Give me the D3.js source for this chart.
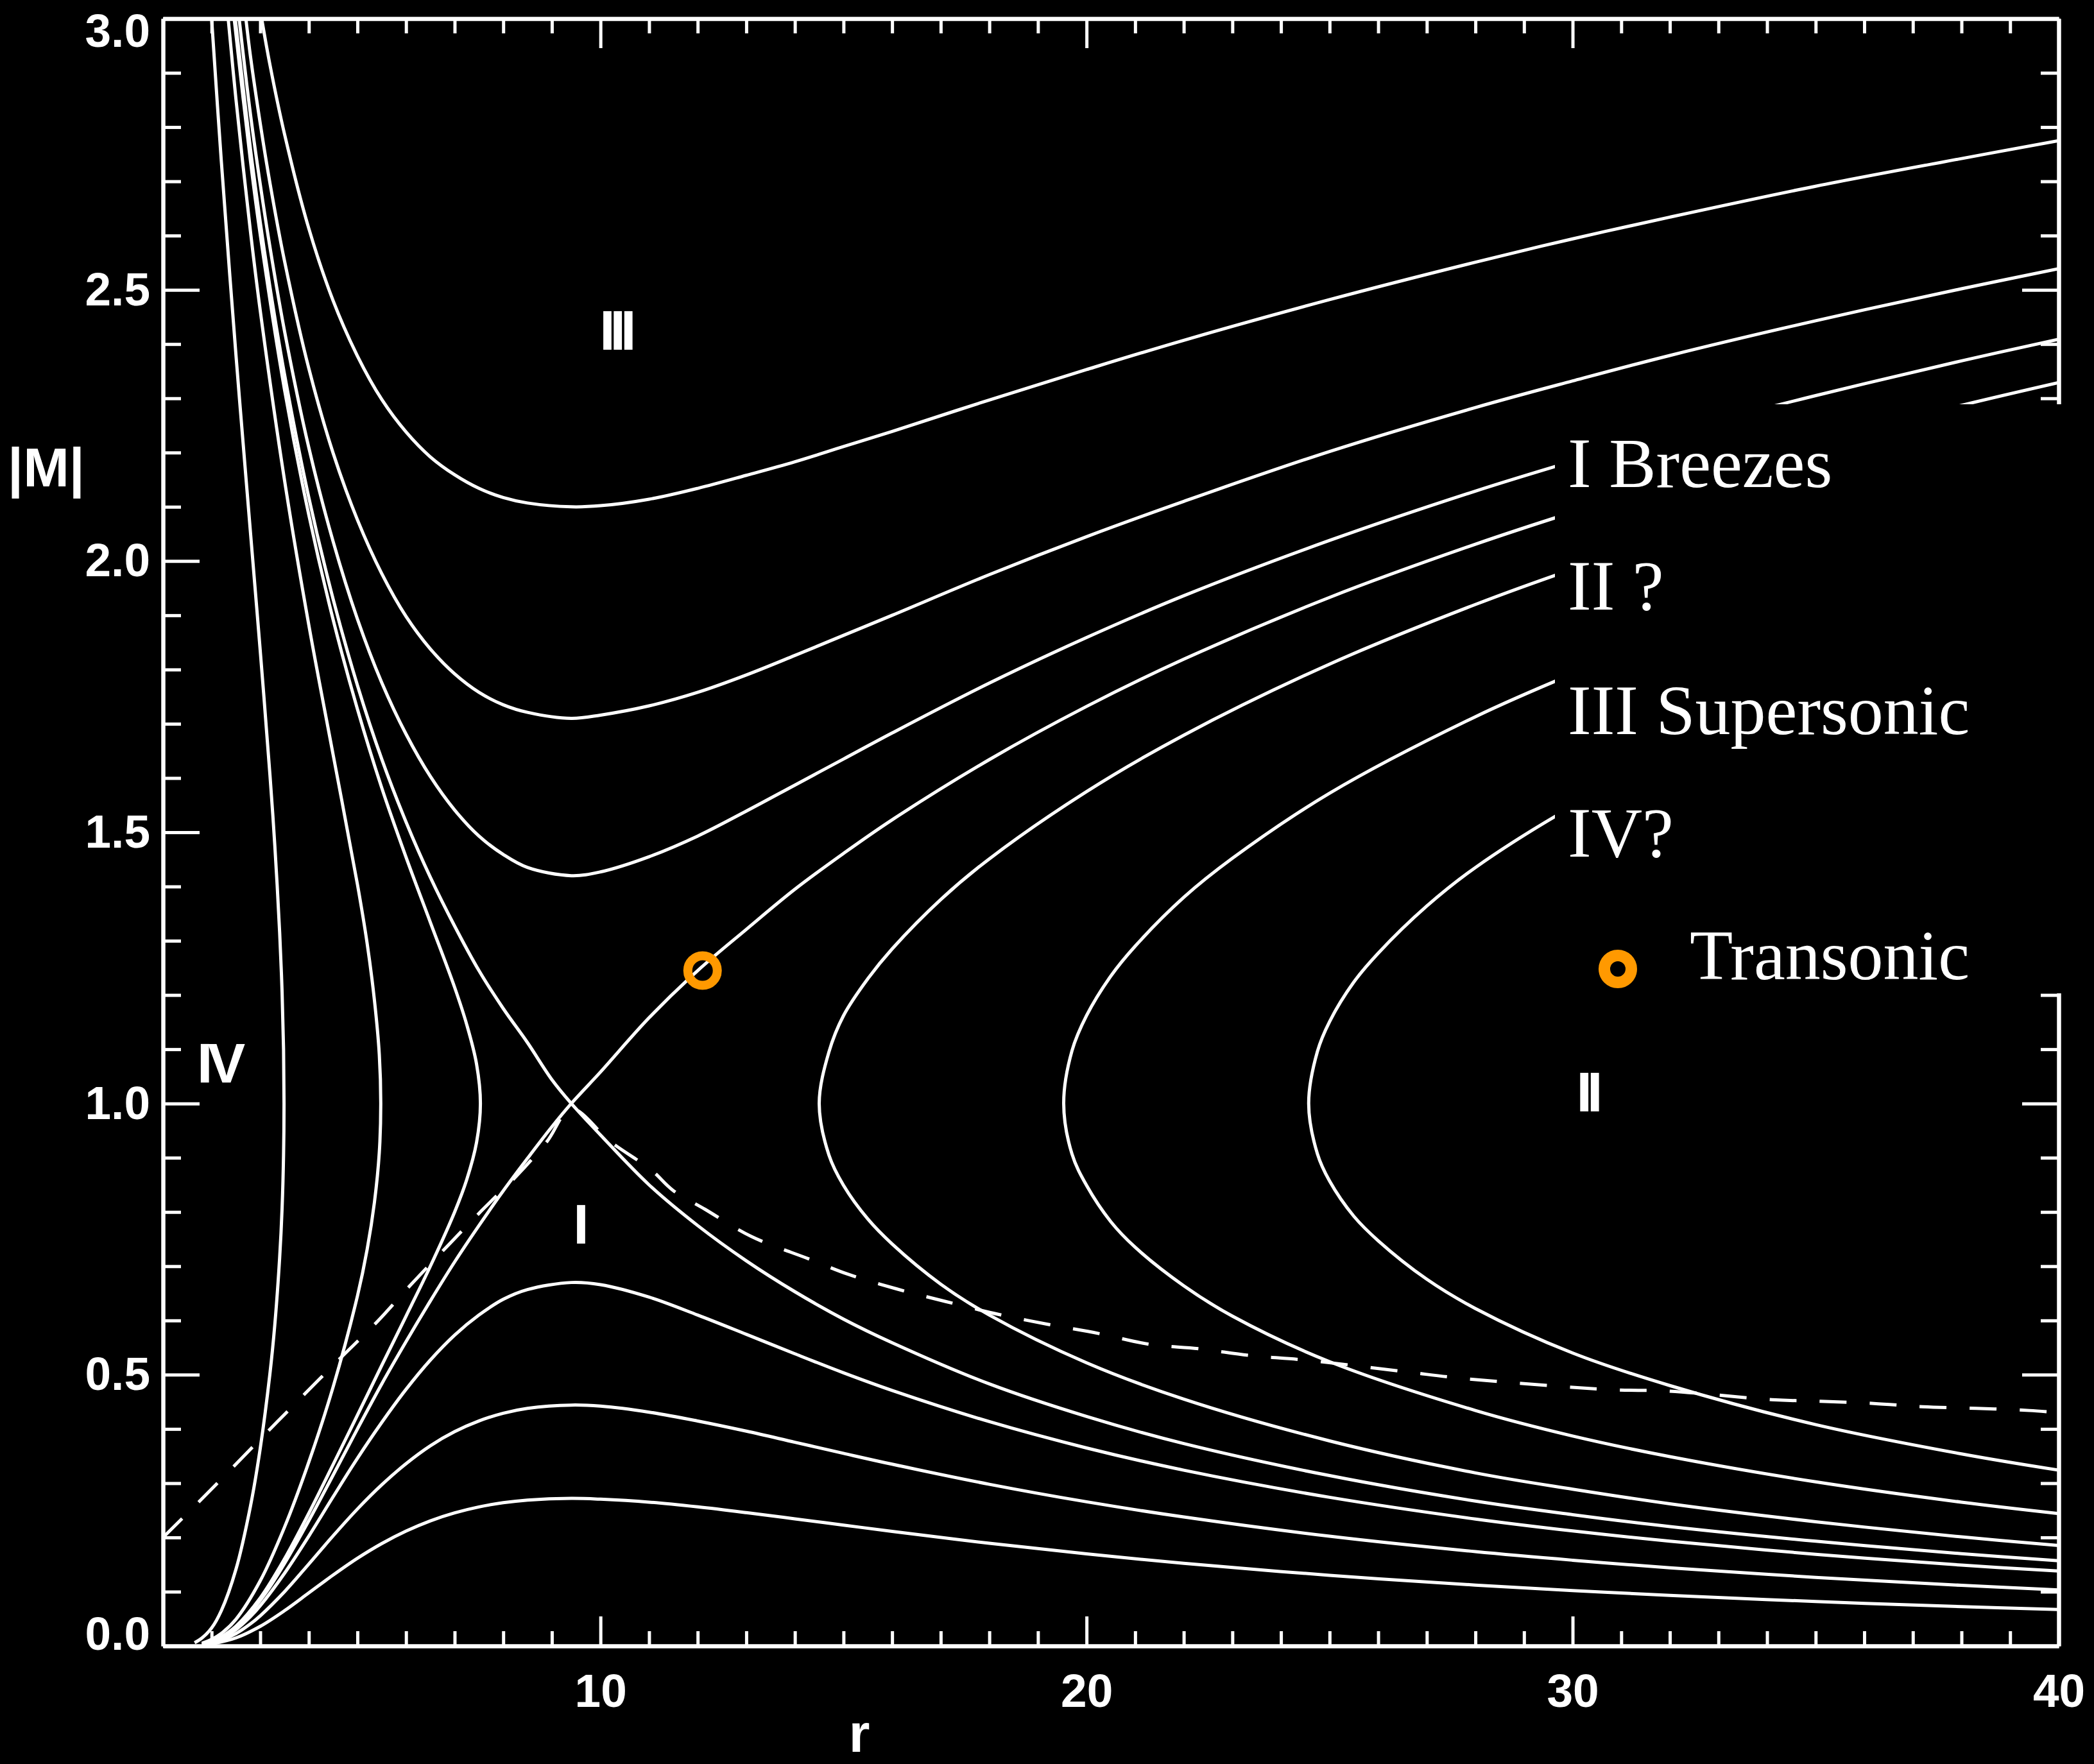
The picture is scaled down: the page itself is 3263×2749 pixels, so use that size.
<!DOCTYPE html>
<html><head><meta charset="utf-8">
<script src="https://cdn.jsdelivr.net/npm/d3@7"></script>
<style>html,body{margin:0;padding:0;background:#000;} svg{display:block;}</style>
</head><body>
<svg id="chart" width="3263" height="2749"></svg>
<script>
// ---------------- data (r, |M|) ----------------
const supersonicA = [[3.03,3.0],[3.2,2.915],[3.5,2.787],[4.0,2.613],[4.5,2.48],[5.0,2.378],[5.5,2.298],[6.0,2.238],[6.5,2.192],[7.0,2.159],[7.5,2.134],[8.0,2.117],[8.5,2.107],[9.4,2.10],[10,2.102],[11,2.114],[12,2.134],[13,2.158],[14,2.183],[15,2.211],[16,2.239],[18,2.297],[20,2.353],[22,2.407],[25,2.482],[28,2.551],[30,2.594],[32,2.634],[35,2.691],[38,2.742],[40,2.775]];
const supersonicB = [[2.705,3.0],[2.8,2.93],[3.0,2.807],[3.2,2.697],[3.5,2.553],[4.0,2.355],[4.5,2.199],[5.0,2.076],[5.5,1.977],[6.0,1.898],[6.5,1.838],[7.0,1.792],[7.5,1.758],[8.0,1.735],[8.5,1.721],[9.4,1.71],[10,1.716],[11,1.733],[12,1.758],[13,1.79],[14,1.826],[15,1.863],[16,1.9],[18,1.975],[20,2.045],[22,2.11],[25,2.202],[28,2.283],[30,2.332],[32,2.379],[35,2.443],[38,2.502],[40,2.539]];
const supersonicC = [[2.566,3.0],[2.8,2.823],[3.0,2.695],[3.2,2.579],[3.5,2.424],[4.0,2.209],[4.5,2.036],[5.0,1.893],[5.5,1.776],[6.0,1.681],[6.5,1.603],[7.0,1.541],[7.5,1.493],[8.0,1.459],[8.5,1.435],[9.4,1.42],[10,1.427],[11,1.455],[12,1.493],[13,1.539],[14,1.587],[15,1.635],[16,1.683],[18,1.775],[20,1.859],[22,1.936],[25,2.038],[28,2.129],[30,2.184],[32,2.236],[35,2.305],[38,2.369],[40,2.409]];
const separatrixDown = [[2.486,3.0],[2.8,2.759],[3.0,2.625],[3.2,2.505],[3.5,2.344],[4.0,2.117],[4.5,1.93],[5.0,1.771],[5.5,1.635],[6.0,1.519],[6.5,1.417],[7.0,1.327],[7.5,1.245],[8.0,1.175],[8.5,1.112],[9.0,1.044],[9.4,1.0],[10,0.942],[11,0.85],[12,0.775],[13,0.71],[14,0.653],[15,0.6025],[16,0.559],[18,0.483],[20,0.423],[22,0.373],[25,0.314],[28,0.267],[30,0.242],[32,0.22],[35,0.193],[38,0.17],[40,0.157]];
const separatrixUp = [[2.0,0.008],[2.2,0.016],[2.5,0.034],[2.8,0.061],[3.0,0.084],[3.2,0.109],[3.5,0.152],[4.0,0.231],[4.5,0.315],[5.0,0.4],[5.5,0.483],[6.0,0.561],[6.5,0.636],[7.0,0.708],[7.5,0.775],[8.0,0.839],[8.5,0.899],[9.0,0.957],[9.4,1.0],[10,1.058],[11,1.158],[12,1.245],[13,1.321],[14,1.395],[15,1.461],[16,1.523],[18,1.634],[20,1.732],[22,1.819],[25,1.933],[28,2.031],[30,2.09],[32,2.145],[35,2.219],[38,2.287],[40,2.329]];
const typeIV_1 = [[2.0,3.0],[2.2,2.737],[2.5,2.381],[2.8,2.052],[3.0,1.835],[3.2,1.606],[3.3,1.476],[3.4,1.315],[3.45,1.205],[3.48,1.1],[3.49,1.0],[3.48,0.905],[3.45,0.807],[3.4,0.716],[3.3,0.592],[3.2,0.502],[3.0,0.364],[2.8,0.258],[2.5,0.141],[2.2,0.065],[2.0,0.033],[1.8,0.0145],[1.65,0.006]];
const typeIV_2 = [[2.341,3.0],[2.5,2.852],[2.8,2.607],[3.0,2.462],[3.5,2.149],[4.0,1.882],[4.5,1.643],[5.0,1.404],[5.2,1.295],[5.35,1.19],[5.45,1.09],[5.48,1.0],[5.45,0.91],[5.35,0.818],[5.2,0.731],[5.0,0.645],[4.5,0.4775],[4.0,0.339],[3.5,0.219],[3.0,0.12],[2.5,0.049],[2.2,0.023],[2.0,0.012],[1.8,0.005]];
const typeIV_3 = [[2.464,3.0],[2.8,2.737],[3.0,2.602],[3.5,2.316],[4.0,2.085],[4.5,1.892],[5.0,1.727],[5.5,1.582],[6.0,1.454],[6.5,1.334],[7.0,1.214],[7.25,1.145],[7.45,1.073],[7.53,1.0],[7.45,0.928],[7.25,0.86],[7.0,0.8],[6.5,0.7],[6.0,0.608],[5.5,0.517],[5.0,0.4255],[4.5,0.3345],[4.0,0.2446],[3.5,0.1605],[3.0,0.0885],[2.5,0.0363],[2.2,0.0168],[2.0,0.0086]];
const typeII_1 = [[40,2.241],[38,2.196],[35,2.124],[32,2.044],[30,1.985],[28,1.92],[25,1.81],[22,1.679],[20,1.575],[18,1.451],[17,1.376],[16,1.285],[15.5,1.23],[15,1.162],[14.7,1.095],[14.5,1.0],[14.7,0.905],[15,0.849],[15.5,0.787],[16,0.741],[17,0.667],[18,0.61],[20,0.522],[22,0.455],[25,0.378],[28,0.319],[30,0.289],[32,0.262],[35,0.229],[38,0.201],[40,0.185]];
const typeII_2 = [[40,2.087],[38,2.037],[35,1.955],[32,1.863],[30,1.792],[28,1.713],[25,1.572],[23,1.452],[22,1.38],[21,1.29],[20.5,1.235],[20,1.162],[19.7,1.097],[19.53,1.0],[19.7,0.907],[20,0.849],[20.5,0.782],[21,0.735],[22,0.664],[23,0.608],[25,0.524],[28,0.434],[30,0.387],[32,0.349],[35,0.3025],[38,0.265],[40,0.244]];
const typeII_3 = [[40,1.912],[38,1.854],[35,1.757],[32,1.641],[30,1.548],[28,1.435],[27,1.364],[26,1.277],[25.5,1.224],[25,1.151],[24.75,1.096],[24.57,1.0],[24.75,0.907],[25,0.857],[25.5,0.792],[26,0.747],[27,0.676],[28,0.622],[30,0.54],[32,0.48],[35,0.408],[38,0.354],[40,0.324]];
const breeze_1 = [[1.8,0.003],[2.0,0.007],[2.2,0.014],[2.5,0.03],[2.8,0.054],[3.0,0.074],[3.5,0.134],[4.0,0.2025],[4.5,0.275],[5.0,0.346],[5.5,0.412],[6.0,0.473],[6.5,0.527],[7.0,0.573],[7.5,0.61],[8.0,0.639],[8.5,0.657],[9.4,0.67],[10,0.666],[11,0.643],[12,0.61],[13,0.5745],[14,0.5385],[15,0.5035],[16,0.471],[18,0.4135],[20,0.365],[22,0.324],[25,0.274],[28,0.234],[30,0.212],[32,0.193],[35,0.169],[38,0.149],[40,0.138]];
const breeze_2 = [[1.8,0.0024],[2.0,0.0054],[2.2,0.0106],[2.5,0.0228],[2.8,0.0407],[3.0,0.0555],[3.5,0.1],[4.0,0.151],[4.5,0.203],[5.0,0.2524],[5.5,0.297],[6.0,0.336],[6.5,0.369],[7.0,0.395],[7.5,0.4147],[8.0,0.429],[8.5,0.438],[9.4,0.444],[10,0.442],[11,0.431],[12,0.4147],[13,0.396],[14,0.3755],[15,0.355],[16,0.335],[18,0.298],[20,0.2657],[22,0.2377],[25,0.2022],[28,0.1738],[30,0.158],[32,0.144],[35,0.1264],[38,0.1117],[40,0.1031]];
const breeze_3 = [[2.0,0.0035],[2.5,0.0148],[3.0,0.0361],[3.5,0.065],[4.0,0.0978],[4.5,0.1307],[5.0,0.1616],[5.5,0.1887],[6.0,0.2117],[6.5,0.2306],[7.0,0.2453],[7.5,0.2563],[8.0,0.264],[8.5,0.2689],[9.4,0.272],[10,0.2705],[11,0.2651],[12,0.2563],[13,0.2457],[14,0.2343],[15,0.2227],[16,0.2112],[18,0.1892],[20,0.1697],[22,0.1522],[25,0.1302],[28,0.1122],[30,0.1021],[32,0.0933],[35,0.0819],[38,0.0725],[40,0.067]];
const dashedCurve = [[1.0,0.2],[1.71,0.263],[2.38,0.324],[3.14,0.394],[3.9,0.463],[4.62,0.528],[5.41,0.598],[6.1,0.666],[7.55,0.802],[8.28,0.867],[8.9,0.93],[9.4,0.99],[10.2,0.93],[11.05,0.877],[11.49,0.84],[12.15,0.805],[13.1,0.755],[14.3,0.713],[15.1,0.685],[16.1,0.658],[17.1,0.635],[18.2,0.611],[19.2,0.593],[20.25,0.576],[21.3,0.556],[22.3,0.548],[23.4,0.535],[24.5,0.527],[26.6,0.505],[27.65,0.494],[29.8,0.478],[30.9,0.472],[31.95,0.47],[34.1,0.454],[35.1,0.451],[36.2,0.447],[37.2,0.441],[38.3,0.438],[39.4,0.434],[40,0.43]];
const transonicPoint = [[12.1,1.245]];

const regionLabels = [{t:"III",r:9.98,m:2.39},{t:"IV",r:1.70,m:1.039},{t:"I",r:9.44,m:0.742},{t:"II",r:30.08,m:0.986}];
const legendLabels = ["I Breezes","II ?","III Supersonic","IV?"];
const legendMarkerLabel = "Transonic";

const xMajorTicks = [10,20,30,40];
const xMinorTicks = [2,3,4,5,6,7,8,9,11,12,13,14,15,16,17,18,19,21,22,23,24,25,26,27,28,29,31,32,33,34,35,36,37,38,39];
const yMajorTicks = [0,0.5,1.0,1.5,2.0,2.5,3.0];
const yMinorTicks = [0.1,0.2,0.3,0.4,0.6,0.7,0.8,0.9,1.1,1.2,1.3,1.4,1.6,1.7,1.8,1.9,2.1,2.2,2.3,2.4,2.6,2.7,2.8,2.9];

// ---------------- drawing ----------------
const W = 3263, H = 2749;
const svg = d3.select("#chart");
svg.append("rect").attr("width", W).attr("height", H).attr("fill", "#000");

const x = d3.scaleLinear().domain([1, 40]).range([254, 3208]);
const y = d3.scaleLinear().domain([0, 3]).range([2565, 29]);

svg.append("clipPath").attr("id", "plotclip").append("rect")
  .attr("x", x(1)).attr("y", y(3)).attr("width", x(40) - x(1)).attr("height", y(0) - y(3));

const line = d3.line().x(d => x(d[0])).y(d => y(d[1])).curve(d3.curveCatmullRom.alpha(0.5));

const curves = [supersonicA, supersonicB, supersonicC, separatrixDown, separatrixUp,
  typeIV_1, typeIV_2, typeIV_3, typeII_1, typeII_2, typeII_3, breeze_1, breeze_2, breeze_3];

const plot = svg.append("g").attr("clip-path", "url(#plotclip)");
plot.selectAll("path.sol").data(curves).enter().append("path")
  .attr("class", "sol").attr("d", line)
  .attr("fill", "none").attr("stroke", "#fff").attr("stroke-width", 5)
  .attr("stroke-linejoin", "round");

plot.append("path").datum(dashedCurve).attr("d", line)
  .attr("fill", "none").attr("stroke", "#fff").attr("stroke-width", 5)
  .attr("stroke-dasharray", "42,36");

// axes
function styleAxis(g) {
  g.attr("font-family", "'Liberation Sans', Arial, sans-serif").attr("font-size", 73)
   .attr("font-weight", "bold").attr("color", "#fff");
  g.selectAll(".domain").attr("stroke-width", 6);
  g.selectAll(".tick line").attr("stroke-width", 5);
}
const fmtY = d3.format(".1f");
// bottom
svg.append("g").attr("transform", `translate(0,${y(0)})`)
  .call(d3.axisBottom(x).tickValues(xMinorTicks).tickSize(-23).tickSizeOuter(0).tickFormat(""))
  .call(styleAxis);
svg.append("g").attr("transform", `translate(0,${y(0)})`)
  .call(d3.axisBottom(x).tickValues(xMajorTicks).tickSize(-46).tickSizeOuter(0).tickPadding(43).tickFormat(d => d))
  .call(styleAxis);
// top
svg.append("g").attr("transform", `translate(0,${y(3)})`)
  .call(d3.axisTop(x).tickValues(xMinorTicks).tickSize(-23).tickSizeOuter(0).tickFormat(""))
  .call(styleAxis);
svg.append("g").attr("transform", `translate(0,${y(3)})`)
  .call(d3.axisTop(x).tickValues(xMajorTicks).tickSize(-46).tickSizeOuter(0).tickFormat(""))
  .call(styleAxis);
// left
svg.append("g").attr("transform", `translate(${x(1)},0)`)
  .call(d3.axisLeft(y).tickValues(yMinorTicks).tickSize(-28).tickSizeOuter(0).tickFormat(""))
  .call(styleAxis);
const leftMajor = svg.append("g").attr("transform", `translate(${x(1)},0)`)
  .call(d3.axisLeft(y).tickValues(yMajorTicks).tickSize(-57).tickSizeOuter(0).tickPadding(20).tickFormat(fmtY))
  .call(styleAxis);
// end labels are pulled inside the frame, as in the reference
leftMajor.selectAll(".tick text")
  .attr("transform", d => d === 3 ? "translate(0,20)" : (d === 0 ? "translate(0,-18)" : null));
// right
svg.append("g").attr("transform", `translate(${x(40)},0)`)
  .call(d3.axisRight(y).tickValues(yMinorTicks).tickSize(-28).tickSizeOuter(0).tickFormat(""))
  .call(styleAxis);
svg.append("g").attr("transform", `translate(${x(40)},0)`)
  .call(d3.axisRight(y).tickValues(yMajorTicks).tickSize(-57).tickSizeOuter(0).tickFormat(""))
  .call(styleAxis);

// axis titles
svg.append("text").attr("x", 1339).attr("y", 2730).attr("text-anchor", "middle")
  .attr("font-family", "'Liberation Sans', Arial, sans-serif").attr("font-weight", "bold")
  .attr("font-size", 84).attr("fill", "#fff").text("r");
svg.append("text").attr("x", 72).attr("y", 758).attr("text-anchor", "middle")
  .attr("font-family", "'Liberation Sans', Arial, sans-serif").attr("font-weight", "bold")
  .attr("font-size", 86).attr("fill", "#fff").text("|M|");

// region labels
svg.selectAll("text.region").data(regionLabels).enter().append("text")
  .attr("class", "region").attr("x", d => x(d.r)).attr("y", d => y(d.m))
  .attr("font-family", "'Liberation Sans', Arial, sans-serif").attr("font-weight", "bold")
  .attr("font-size", 88).attr("letter-spacing", -8).attr("fill", "#fff").text(d => d.t);

// transonic marker on the curve
svg.selectAll("circle.tp").data(transonicPoint).enter().append("circle")
  .attr("class", "tp").attr("cx", d => x(d[0])).attr("cy", d => y(d[1])).attr("r", 23)
  .attr("fill", "none").attr("stroke", "#ff9900").attr("stroke-width", 14);

// legend box (black, covers curves and right axis)
svg.append("rect").attr("x", 2423).attr("y", 630).attr("width", W - 2423).attr("height", 918).attr("fill", "#000");
const legendBaselines = [759, 950, 1144, 1335];
svg.selectAll("text.leg").data(legendLabels).enter().append("text")
  .attr("class", "leg").attr("x", 2443).attr("y", (d, i) => legendBaselines[i])
  .attr("font-family", "'Liberation Serif', 'Times New Roman', serif")
  .attr("font-size", 110).attr("fill", "#fff").text(d => d);
svg.append("circle").attr("cx", 2521).attr("cy", 1510).attr("r", 21)
  .attr("fill", "none").attr("stroke", "#ff9900").attr("stroke-width", 18);
svg.append("text").attr("x", 2633).attr("y", 1526)
  .attr("font-family", "'Liberation Serif', 'Times New Roman', serif")
  .attr("font-size", 110).attr("fill", "#fff").text(legendMarkerLabel);
</script>
</body></html>
